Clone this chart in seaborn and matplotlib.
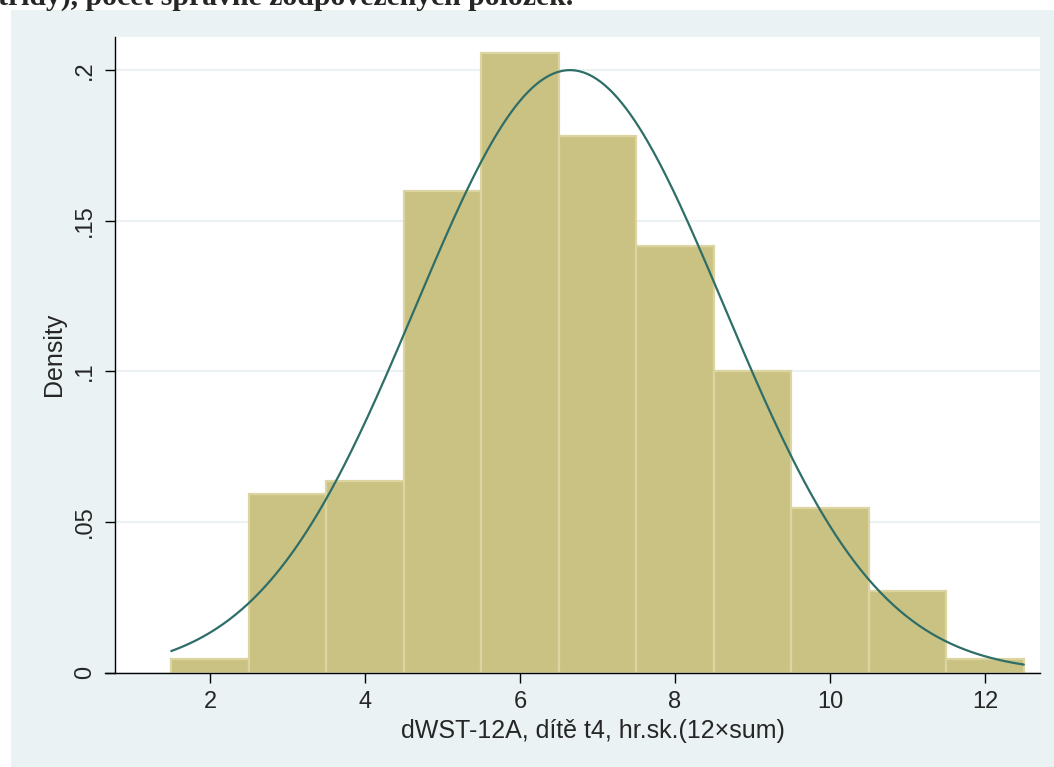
import numpy as np
import pandas as pd
import matplotlib
matplotlib.use("Agg")
import matplotlib.pyplot as plt
import seaborn as sns
from matplotlib.patches import Rectangle

# ---- data ----
bin_centers = [2, 3, 4, 5, 6, 7, 8, 9, 10, 11, 12]
densities = [0.0044, 0.0594, 0.0637, 0.1598, 0.2058, 0.1780, 0.1415, 0.1002, 0.0547, 0.0272, 0.0044]
normal_mean = 6.645
normal_sd = 1.995
x_ticks = [2, 4, 6, 8, 10, 12]
y_ticks = [0, 0.05, 0.10, 0.15, 0.20]
y_tick_labels = ["0", ".05", ".1", ".15", ".2"]
x_label = "dWST-12A, dítě t4, hr.sk.(12×sum)"
y_label = "Density"
title_text = "třídy), počet správně zodpovězených položek."

sns.set_theme(style="white")
plt.rcParams['font.family'] = ['Liberation Sans', 'DejaVu Sans']

W, H = 1054, 767
fig = plt.figure(figsize=(W / 100, H / 100), dpi=100, facecolor="white")
bg = "#EAF2F3"
fig.patches.append(Rectangle((11 / W, 0), 1 - 11 / W, 1 - 10 / H, transform=fig.transFigure,
                             facecolor=bg, edgecolor="none", zorder=-10))

left, right, top, bottom = 115, 1040, 37, 672.7
ax = fig.add_axes([left / W, 1 - bottom / H, (right - left) / W, (bottom - top) / H])
ax.set_facecolor("white")

df = pd.DataFrame({"score": bin_centers, "density": densities})
sns.histplot(data=df, x="score", weights="density", binwidth=1.0, binrange=(1.5, 12.5),
             stat="count", color="#CAC282", edgecolor="#DCD5A2", linewidth=1.6,
             alpha=1.0, ax=ax, zorder=2)

xs = np.linspace(1.5, 12.5, 400)
ys = np.exp(-0.5 * ((xs - normal_mean) / normal_sd) ** 2) / (normal_sd * np.sqrt(2 * np.pi))
sns.lineplot(x=xs, y=ys, color="#2F6E68", linewidth=1.6, ax=ax, zorder=3)

x_per_px = 10 / (985 - 210)
xmin = 2 - (210 - left) * x_per_px
xmax = 12 + (right - 985) * x_per_px
ax.set_xlim(xmin, xmax)
ax.set_ylim(0, 0.2 + (70 - top) / 3010)

ax.set_xticks(x_ticks)
ax.set_xticklabels([str(t) for t in x_ticks])
ax.set_yticks(y_ticks)
ax.set_yticklabels(y_tick_labels, rotation=90, va="center")
ax.tick_params(axis="both", direction="out", length=7.5, width=1.0, color="black",
               labelsize=17, pad=6, bottom=True, left=True)
ax.grid(axis="y", color=bg, linewidth=1.5, zorder=0)
ax.set_axisbelow(True)

for s in ["top", "right"]:
    ax.spines[s].set_visible(False)
for s in ["left", "bottom"]:
    ax.spines[s].set_color("black")
    ax.spines[s].set_linewidth(1.0)
ax.spines["bottom"].set_bounds(xmin - 10 * x_per_px, xmax)

pw, ph = right - left, bottom - top
ax.set_xlabel(x_label, fontsize=18)
ax.xaxis.set_label_coords((593 - left) / pw, -(719 - bottom) / ph)
ax.set_ylabel(y_label, fontsize=18)
ax.yaxis.set_label_coords(-(left - 66) / pw, 0.5)

fig.text(-0.002, 1 - 5 / H, title_text, fontsize=21.4, fontweight="bold",
         family=["Liberation Serif", "DejaVu Serif"], ha="left", va="baseline")

fig.savefig("out.png", dpi=100, facecolor="white")
